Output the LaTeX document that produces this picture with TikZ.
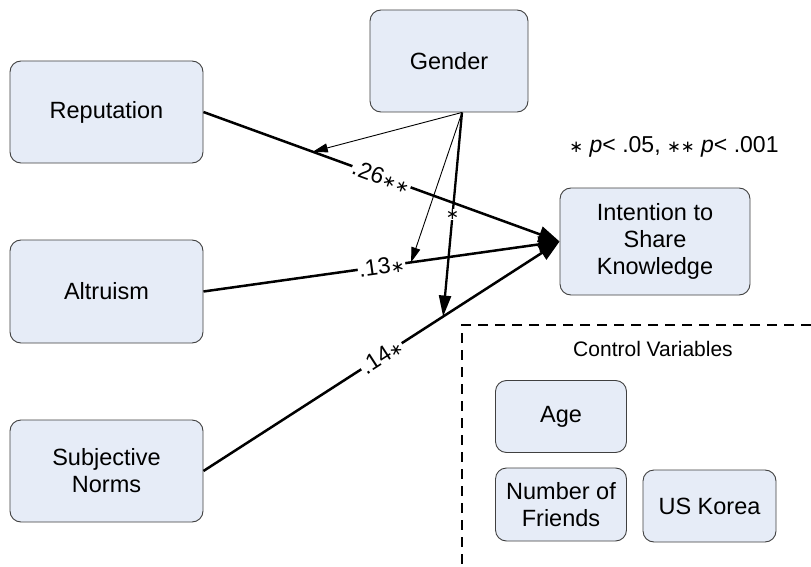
\documentclass[tikz,border=0pt]{standalone}
\usepackage{fontspec}
\setmainfont{Liberation Sans}
\newfontfamily\djv{DejaVu Sans}
\usetikzlibrary{arrows.meta}
\newcommand\myst{\scalebox{0.72}{\djv ∗}}
\begin{document}
\begin{tikzpicture}[x=1pt,y=-1pt,
  box/.style={draw=black!75, line width=0.9pt, rounded corners=11pt, fill={rgb,255:red,230;green,236;blue,247}, align=center, inner sep=0pt, font=\fontsize{23.5}{27}\selectfont},
  mainarrow/.style={line width=2.5pt, -{Triangle[length=21pt,width=16pt]}},
  thinarrow/.style={line width=0.9pt, -{Triangle[length=15pt,width=9pt]}},
  gthick/.style={line width=2.3pt, -{Triangle[length=21pt,width=12pt]}},
  coef/.style={sloped, fill=white, inner sep=1pt, font=\fontsize{23}{24}\selectfont},
  note/.style={font=\fontsize{23}{26}\selectfont}]
\useasboundingbox (0,0) rectangle (811,567);
\fill[white] (0,0) rectangle (811,567);

\node[box, minimum width=193pt, minimum height=102pt] (rep) at (106.5,112) {Reputation};
\node[box, minimum width=158pt, minimum height=102pt] (gen) at (449,61) {Gender};
\node[box, minimum width=193pt, minimum height=103pt] (alt) at (106.5,291.5) {Altruism};
\node[box, minimum width=193pt, minimum height=102pt] (sn) at (106.5,471) {Subjective\\Norms};
\node[box, minimum width=190pt, minimum height=107pt] (int) at (655,241.5) {Intention to\\Share\\Knowledge};
\node[box, minimum width=131pt, minimum height=72pt] (age) at (561,416.5) {Age};
\node[box, minimum width=131pt, minimum height=73pt] (nof) at (561,504.5) {Number of\\Friends};
\node[box, minimum width=133pt, minimum height=72pt] (usk) at (709.5,506) {US Korea};

\node[note] (legend) at (674,147) {\myst{} \textit{p}< .05, \myst\myst{} \textit{p}< .001};
\node[note, font=\fontsize{21}{24}\selectfont] (ctrl) at (653,349) {Control Variables};

\coordinate (dcorner) at (462,325);
\coordinate (dright) at (811,325);
\coordinate (dbottom) at (462,567);
\draw[line width=1.5pt, dash pattern=on 10pt off 7pt] (dright) -- (dcorner) -- (dbottom);

\draw[mainarrow] (rep.east) -- node[coef, pos=0.5] {.26\myst\myst} (int.west) coordinate[pos=0.307] (t1);
\draw[mainarrow] (alt.east) -- node[coef, pos=0.5] {.13\myst} (int.west) coordinate[pos=0.583] (t2);
\draw[mainarrow] (sn.east) -- node[coef, pos=0.5] {.14\myst} (int.west) coordinate[pos=0.673] (t3);

\coordinate (g) at ([xshift=13pt]gen.south);
\draw[thinarrow] (g) -- (t1);
\draw[thinarrow] (g) -- (t2);
\draw[gthick] (g) -- node[pos=0.5, fill=white, inner sep=1pt, font=\fontsize{22}{22}\selectfont] {\myst} (t3);
\end{tikzpicture}
\end{document}
